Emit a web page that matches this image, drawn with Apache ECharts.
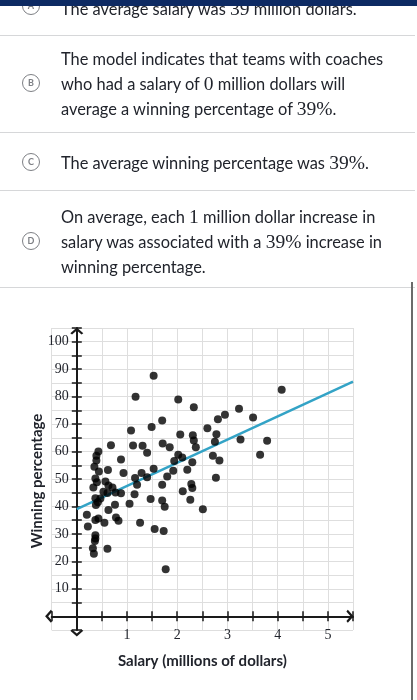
<!DOCTYPE html>
<html><head><meta charset="utf-8">
<script src="https://cdn.jsdelivr.net/npm/echarts@6/dist/echarts.min.js"></script>
<style>
html,body{margin:0;padding:0;background:#fff;width:417px;height:700px;overflow:hidden;}
#chart{position:absolute;left:0;top:0;width:417px;height:700px;}
.opt{position:absolute;left:61px;font-family:Lato,'Noto Sans',sans-serif;font-size:16.4px;line-height:25px;color:#21242c;white-space:nowrap;}
.m{font-family:'Liberation Serif',serif;font-size:19.5px;}
.circ{position:absolute;left:22px;width:16px;height:16px;border:1.5px solid #7d7f84;border-radius:50%;font:bold 9px Lato,sans-serif;color:#7d7f84;text-align:center;line-height:16px;background:#fff;}
.sep{position:absolute;left:0;width:415px;height:1px;background:#d6d7d9;}
#bar{position:absolute;left:0;top:0;width:417px;height:6px;background:#0d2a63;z-index:5;}
#vline{position:absolute;left:411px;top:282px;width:2px;height:418px;background:#6b6b6b;}
</style></head>
<body>
<div id="chart"></div>
<div id="bar"></div>
<div class="circ" style="top:-3px">A</div>
<div class="opt" style="top:-4px">The average salary was <span class="m">39</span> million dollars.</div>
<div class="sep" style="top:35px"></div>
<div class="circ" style="top:74px">B</div>
<div class="opt" style="top:46px">The model indicates that teams with coaches<br>who had a salary of <span class="m">0</span> million dollars will<br>average a winning percentage of <span class="m">39%</span>.</div>
<div class="sep" style="top:132px"></div>
<div class="circ" style="top:153px">C</div>
<div class="opt" style="top:150px">The average winning percentage was <span class="m">39%</span>.</div>
<div class="sep" style="top:190px"></div>
<div class="circ" style="top:232px">D</div>
<div class="opt" style="top:204px">On average, each <span class="m">1</span> million dollar increase in<br>salary was associated with a <span class="m">39%</span> increase in<br>winning percentage.</div>
<div class="sep" style="top:287px"></div>
<div id="vline"></div>
<script>
const salary = [1.53,1.17,2.02,2.33,2.81,1.70,1.08,1.49,2.60,2.06,2.31,2.33,2.37,2.75,2.78,
  0.68,1.12,1.31,1.40,1.71,1.85,0.43,0.39,0.39,0.35,0.44,0.62,0.88,0.93,1.16,1.29,1.40,1.53,
  1.80,1.92,1.94,2.02,2.10,2.20,2.30,2.77,2.84,2.71,1.70,1.20,2.11,2.28,2.30,1.15,0.37,0.40,
  0.57,0.63,0.71,0.33,0.37,0.53,0.77,0.61,0.88,0.47,0.38,0.42,0.76,1.05,1.47,1.70,1.75,2.26,
  2.51,0.20,0.22,0.37,0.43,0.55,0.63,0.78,0.83,1.26,1.55,1.73,0.37,0.37,0.36,0.32,0.34,0.61,
  1.77,4.08,3.23,2.95,3.51,3.26,3.79,3.65];
const winPct = [87.6,80,79,76.1,71.8,71.3,67.7,68.9,68.5,66.2,65.9,64,61.6,63.6,66.3,
  62.3,62.2,62.1,59.6,62.9,61.6,60,58.5,56.7,54.5,52.7,53.3,57.1,52.2,50.4,52.2,50.6,53.7,
  50.9,53,56.6,58.8,57.8,53.4,56.1,50.5,56.7,58.5,47.9,47.9,45.5,48.2,46.7,44.4,50.2,48.8,
  49.1,47.6,46.9,46.9,43,45.4,45.1,44.9,44.8,42.9,40.5,41.5,40.6,41,42.7,42.2,39.9,42.4,
  39,37,32.7,35.1,35.6,34.1,38.7,36,34.8,34.1,31.8,31.1,29.5,28.3,27.4,24.8,22.8,24.6,
  17.1,82.5,75.6,73.4,72.4,64.4,63.9,58.8];
const fitX = [0, 5.5];
const fitY = [39, 85.5];
const xTickLabels = [1, 2, 3, 4, 5];
const yTickLabels = [10, 20, 30, 40, 50, 60, 70, 80, 90, 100];
const xTitle = 'Salary (millions of dollars)';
const yTitle = 'Winning percentage';

const arrow = 'path://M0,8 L9,0 L18,8 L15.6,10 L9,4.3 L2.4,10 Z';
const axisColor = '#1a1a1a';
const labelFont = {fontFamily:'Liberation Serif', fontSize:14, color:'#21242c'};
const nameFont = {fontFamily:'Lato', fontWeight:'bold', fontSize:15, color:'#21242c'};

const chart = echarts.init(document.getElementById('chart'), null, {renderer:'canvas'});
chart.setOption({
  animation:false,
  grid:{left:51.7, right:64, top:328, bottom:70, containLabel:false, outerBoundsMode:'none'},
  graphic:[{
    type:'text', x:37, y:481, rotation:Math.PI/2,
    style:{text:yTitle, align:'center', verticalAlign:'middle', fill:'#21242c',
      font:'bold 15px Lato'}
  }],
  xAxis:[{
    type:'value', min:-0.5, max:5.5, interval:0.5, position:'bottom',
    axisLine:{show:true, onZero:true, onZeroAxisIndex:0, symbol:[arrow, arrow], symbolSize:[13,8], symbolOffset:[-3,-3],
      lineStyle:{color:axisColor, width:2}},
    axisTick:{show:true, inside:false, length:5, lineStyle:{color:axisColor, width:1.5}},
    axisLabel:{margin:-2, formatter:v => xTickLabels.indexOf(v) >= 0 ? String(v) : '', ...labelFont},
    splitLine:{show:true, lineStyle:{color:'#dedede', width:1}},
    name:xTitle, nameLocation:'middle', nameGap:24, nameTextStyle:nameFont
  },{
    type:'value', min:-0.5, max:5.5, interval:0.5, position:'top',
    axisLine:{show:false, onZero:true, onZeroAxisIndex:1},
    axisTick:{show:true, inside:false, length:5, lineStyle:{color:axisColor, width:1.5}},
    axisLabel:{show:false}, splitLine:{show:false}
  }],
  yAxis:[{
    type:'value', min:-5, max:105, interval:5, position:'left',
    axisLine:{show:true, onZero:true, onZeroAxisIndex:0, symbol:[arrow, arrow], symbolSize:[13,8], symbolOffset:[-3,-3],
      lineStyle:{color:axisColor, width:2}},
    axisTick:{show:true, inside:false, length:5, lineStyle:{color:axisColor, width:1.5}},
    axisLabel:{margin:-17, formatter:v => yTickLabels.indexOf(v) >= 0 ? String(v) : '', ...labelFont},
    splitLine:{show:true, lineStyle:{color:'#dedede', width:1}}
  },{
    type:'value', min:-5, max:105, interval:5, position:'right',
    axisLine:{show:false, onZero:true, onZeroAxisIndex:1},
    axisTick:{show:true, inside:false, length:5, lineStyle:{color:axisColor, width:1.5}},
    axisLabel:{show:false}, splitLine:{show:false}
  }],
  series:[{
    type:'line', data:fitX.map((x,i)=>[x, fitY[i]]), showSymbol:false, symbol:'none',
    lineStyle:{color:'#33a3c6', width:2.5}, z:2
  },{
    type:'scatter', data:salary.map((x,i)=>[x, winPct[i]]), symbol:'circle', symbolSize:8,
    itemStyle:{color:'#000'}, z:3
  }]
});
</script>
</body></html>
